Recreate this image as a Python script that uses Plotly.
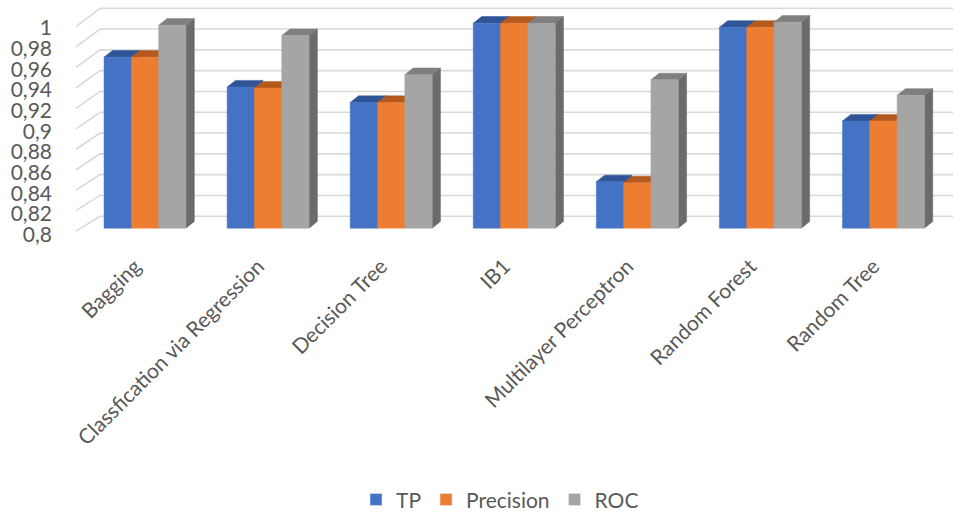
import plotly.graph_objects as go

# ---- data -------------------------------------------------------------
categories = ["Bagging", "Classfication via Regression", "Decision Tree", "IB1",
              "Multilayer Perceptron", "Random Forest", "Random Tree"]
tp_values = [0.966, 0.937, 0.922, 0.999, 0.845, 0.995, 0.904]
precision_values = [0.966, 0.936, 0.922, 0.999, 0.844, 0.995, 0.904]
roc_values = [0.997, 0.987, 0.949, 0.999, 0.944, 1.000, 0.929]
series_names = ["TP", "Precision", "ROC"]
y_tick_values = [0.8, 0.82, 0.84, 0.86, 0.88, 0.9, 0.92, 0.94, 0.96, 0.98, 1.0]
y_tick_labels = ["0,8", "0,82", "0,84", "0,86", "0,88", "0,9", "0,92", "0,94",
                 "0,96", "0,98", "1"]

# ---- style --------------------------------------------------------------
front_colors = ["#4472C4", "#ED7D31", "#A5A5A5"]
top_colors = ["#2F5597", "#B45A1F", "#7F7F7F"]
side_colors = ["#264478", "#9E480E", "#6B6B6B"]
text_color = "#595959"
grid_color = "#D9D9D9"
FONT = "Lato, Calibri, sans-serif"

W, H = 953, 521
M_L, M_R, M_T, M_B = 70, 0, 5, 276
plot_w = W - M_L - M_R
plot_h = H - M_T - M_B

# horizontal scale: one category slot = 123.07 px
PX_X = 123.07
x_lo = -0.5 - 13.5 / PX_X
x_hi = x_lo + plot_w / PX_X
label_shift = 10 / PX_X       # category labels sit a little left of the slot centre

# value scale used for the columns and walls
PX_Y = 1038.5
base = 0.8
y_lo = base - (M_T + plot_h - 230) / PX_Y
y_hi = y_lo + plot_h / PX_Y

# value scale used for the tick labels (front edge of the walls)
PX_YL = 1042.5
yl_lo = base - (M_T + plot_h - 236.5) / PX_YL
yl_hi = yl_lo + plot_h / PX_YL

bar_w = 0.222                 # column width in category units
depth_x = 8.3 / PX_X          # 3-D depth shift of each column
depth_y = 6.7 / PX_Y


def px_to_x(px):
    return x_lo + (px - M_L) / PX_X


fig = go.Figure()

# ---- walls: slanted side-wall lines + back-wall gridlines ---------------
front_x, back_x = px_to_x(76), px_to_x(100)
gx, gy = [], []
for v in y_tick_values:
    v_front = base + (-3 + (v - base) * 1031.5) / PX_Y
    v_back = base + (12 + (v - base) * 1048.5) / PX_Y
    gx += [front_x, back_x, x_hi, None]
    gy += [v_front, v_back, v_back, None]
fig.add_trace(go.Scatter(x=gx, y=gy, mode="lines",
                         line=dict(color=grid_color, width=1.6),
                         hoverinfo="skip", showlegend=False))

# ---- 3-D columns ----------------------------------------------------------
all_values = [tp_values, precision_values, roc_values]
for s, vals in enumerate(all_values):
    sx, sy, tx, ty, fx, fy = [], [], [], [], [], []
    for i, v in enumerate(vals):
        left = i + (s - 1.5) * bar_w
        right = left + bar_w
        # side face
        sx += [right, right + depth_x, right + depth_x, right, right, None]
        sy += [base, base + depth_y, v + depth_y, v, base, None]
        # top face
        tx += [left, right, right + depth_x, left + depth_x, left, None]
        ty += [v, v, v + depth_y, v + depth_y, v, None]
        # front face
        fx += [left, right, right, left, left, None]
        fy += [base, base, v, v, base, None]
    for xs, ys, col in ((sx, sy, side_colors[s]), (tx, ty, top_colors[s]),
                        (fx, fy, front_colors[s])):
        fig.add_trace(go.Scatter(x=xs, y=ys, mode="lines", fill="toself",
                                 fillcolor=col, line=dict(color=col, width=0.5),
                                 hoverinfo="skip", showlegend=False))

# legend entries
for s, name in enumerate(series_names):
    fig.add_trace(go.Bar(x=[None], y=[None], name=name,
                         marker=dict(color=front_colors[s])))

# carrier for the label axes
fig.add_trace(go.Scatter(x=[0], y=[0.9], xaxis="x2", yaxis="y2", mode="markers",
                         marker=dict(opacity=0), hoverinfo="skip",
                         showlegend=False))

fig.update_layout(
    width=W, height=H,
    margin=dict(l=M_L, r=M_R, t=M_T, b=M_B),
    paper_bgcolor="white", plot_bgcolor="white",
    font=dict(family=FONT, color=text_color),
    xaxis=dict(range=[x_lo, x_hi], showgrid=False, zeroline=False,
               showline=False, showticklabels=False, ticks=""),
    xaxis2=dict(range=[x_lo + label_shift, x_hi + label_shift],
                overlaying="x", side="bottom",
                tickvals=list(range(len(categories))),
                ticktext=categories, tickangle=-45, showgrid=False,
                zeroline=False, showline=False, ticks="",
                ticklabelstandoff=6,
                tickfont=dict(family=FONT, size=21, color=text_color)),
    yaxis=dict(range=[y_lo, y_hi], showgrid=False, zeroline=False,
               showticklabels=False, showline=False),
    yaxis2=dict(range=[yl_lo, yl_hi], overlaying="y", side="left",
                tickvals=y_tick_values, ticktext=y_tick_labels,
                showgrid=False, zeroline=False, showline=False, ticks="",
                ticklabelstandoff=17,
                tickfont=dict(family=FONT, size=21, color=text_color)),
    legend=dict(orientation="h", x=0.487, xanchor="center",
                y=(M_T + plot_h - 504) / plot_h, yanchor="middle",
                font=dict(family=FONT, size=21, color=text_color),
                itemwidth=30),
    showlegend=True,
)

fig.write_html("out.html")
